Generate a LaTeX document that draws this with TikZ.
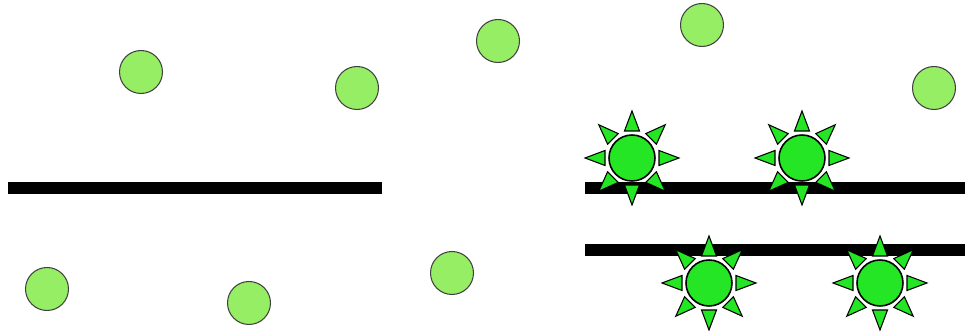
\documentclass[tikz,border=0pt]{standalone}
\usepackage{xcolor}
\usepackage{tikz}
\usetikzlibrary{positioning}

\definecolor{palegreen}{RGB}{150,238,100}
\definecolor{sungreen}{RGB}{36,230,36}

\begin{document}
\begin{tikzpicture}[
    x=0.02cm, y=-0.02cm,
    dot/.style={circle, draw=black!75, fill=palegreen, line width=0.6pt, minimum size=0.86cm, inner sep=0pt},
    sun/.style={circle, draw=black, fill=sungreen, line width=0.9pt, minimum size=0.92cm, inner sep=0pt},
    ray/.style={draw=black, fill=sungreen, line width=0.6pt, line join=miter},
    bar/.style={line width=0.24cm, color=black},
]

% ===== Frame =====
\useasboundingbox (0,0) rectangle (965,333);

% ===== Bars =====
\coordinate (barLa) at (8,188);
\coordinate (barLb) at (382,188);
\coordinate (barRa) at (585,188);
\coordinate (barRb) at (965,188);
\coordinate (barSa) at (585,250);
\coordinate (barSb) at (965,250);
\draw[bar] (barLa) -- (barLb);
\draw[bar] (barRa) -- (barRb);
\draw[bar] (barSa) -- (barSb);

% ===== Free dots =====
\node[dot] (d1) at (141,72) {};
\node[dot] (d2) at (357,88) {};
\node[dot] (d3) at (498,41) {};
\node[dot] (d4) at (702,25) {};
\node[dot] (d5) at (934,88) {};
\node[dot] (d6) at (47,289) {};
\node[dot] (d7) at (249,303) {};
\node[dot] (d8) at (452,273) {};

% ===== Bound dots (suns) =====
\node[sun] (s1) at (632,158) {};
\node[sun] (s2) at (802,158) {};
\node[sun] (s3) at (709,283) {};
\node[sun] (s4) at (880,283) {};

% Rays
\foreach \s in {s1,s2,s3,s4}
    \foreach \a in {0,45,...,315}
        \draw[ray, shift={(\s.center)}, rotate=\a] (27,-7.5) -- (47,0) -- (27,7.5) -- cycle;

\end{tikzpicture}
\end{document}
